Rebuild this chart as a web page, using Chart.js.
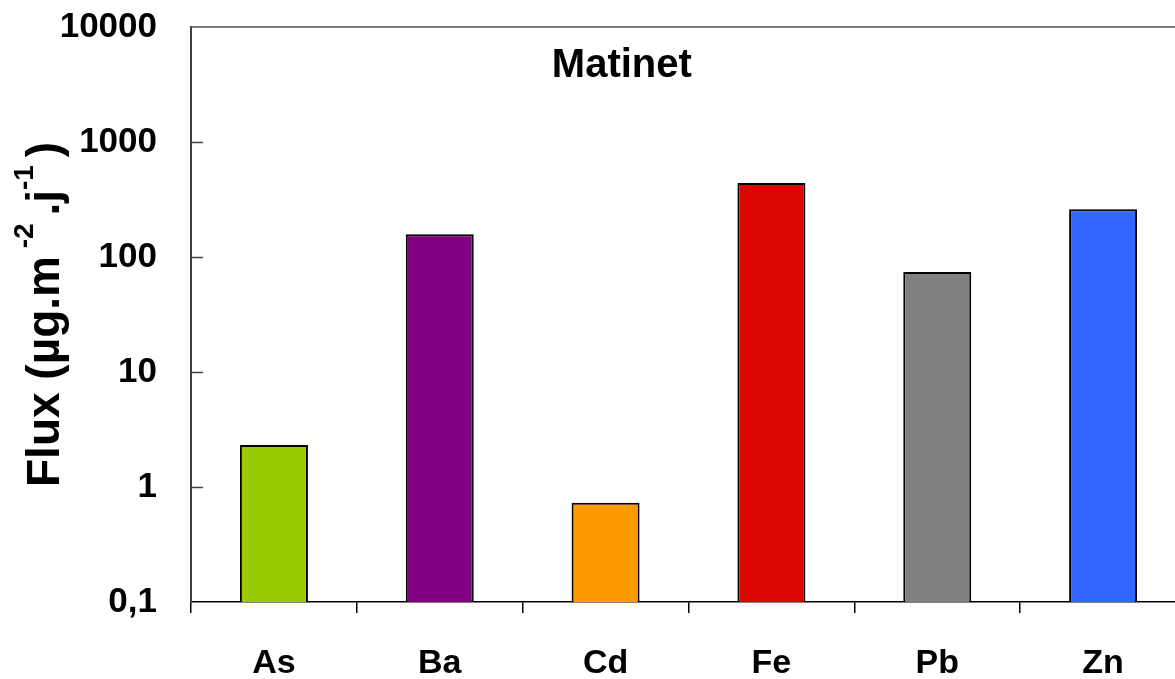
<!DOCTYPE html>
<html>
<head>
<meta charset="utf-8">
<script src="https://cdn.jsdelivr.net/npm/chart.js@4/dist/chart.umd.min.js"></script>
<style>
  html, body { margin: 0; padding: 0; background: #ffffff; }
  #wrap { width: 1175px; height: 679px; overflow: hidden; position: relative; }
  canvas { display: block; }
</style>
</head>
<body>
<div id="wrap"><canvas id="chart" width="1200" height="679"></canvas></div>
<script>
// Daily deposition flux per element, site "Matinet"
const categories = ['As', 'Ba', 'Cd', 'Fe', 'Pb', 'Zn'];
const fluxValues = [2.32, 158, 0.73, 440, 74, 260];
const barColors = ['#99CC00', '#800080', '#FF9900', '#DC0605', '#808080', '#3366FF'];
const tickValues = [0.1, 1, 10, 100, 1000, 10000];
const tickLabels = ['0,1', '1', '10', '100', '1000', '10000'];
const chartTitle = 'Matinet';

const FONT = '"Liberation Sans", Arial, sans-serif';

// Inward tick marks on the value axis, top frame line, title and axis title
const decorations = {
  id: 'decorations',
  afterDatasetsDraw(chart) {
    const { ctx, chartArea, scales } = chart;
    const y = scales.y;
    ctx.save();
    // top frame line
    ctx.strokeStyle = '#505050';
    ctx.lineWidth = 1.5;
    ctx.beginPath();
    ctx.moveTo(chartArea.left, chartArea.top);
    ctx.lineTo(chartArea.right, chartArea.top);
    ctx.stroke();
    // inward ticks
    ctx.strokeStyle = '#404040';
    ctx.lineWidth = 1.5;
    y.ticks.forEach(t => {
      if (t.value <= tickValues[0] || t.value >= tickValues[tickValues.length - 1]) return;
      const py = Math.round(y.getPixelForValue(t.value)) + 0.5;
      ctx.beginPath();
      ctx.moveTo(chartArea.left, py);
      ctx.lineTo(chartArea.left + 12, py);
      ctx.stroke();
    });
    ctx.restore();
  },
  afterDraw(chart) {
    const { ctx, chartArea } = chart;
    ctx.save();
    // chart title inside the plot area
    ctx.fillStyle = '#000000';
    ctx.font = 'bold 40px ' + FONT;
    ctx.textAlign = 'center';
    ctx.textBaseline = 'alphabetic';
    ctx.fillText(chartTitle, chartArea.left + 0.433 * (chartArea.right - chartArea.left), 77);

    // rotated axis title with superscripts
    const big = 'bold 46px ' + FONT;
    const small = 'bold 28px ' + FONT;
    const parts = [
      { t: 'Flux (\u00b5g.m', f: big, dy: 0 },
      { t: ' ', f: small, dy: 0 },
      { t: '-2', f: small, dy: -26 },
      { t: ' ', f: small, dy: 0 },
      { t: '.j', f: big, dy: 0 },
      { t: '-1', f: small, dy: -26 },
      { t: ' ', f: small, dy: 0 },
      { t: ')', f: big, dy: 0 }
    ];
    let total = 0;
    parts.forEach(p => { ctx.font = p.f; p.w = ctx.measureText(p.t).width; total += p.w; });
    const cy = (chartArea.top + chartArea.bottom) / 2;
    ctx.translate(59, cy);
    ctx.rotate(-Math.PI / 2);
    ctx.textAlign = 'left';
    let x = -total / 2;
    parts.forEach(p => {
      ctx.font = p.f;
      ctx.fillText(p.t, x, p.dy);
      x += p.w;
    });
    ctx.restore();
  }
};

new Chart(document.getElementById('chart'), {
  type: 'bar',
  data: {
    labels: categories,
    datasets: [{
      data: fluxValues,
      backgroundColor: barColors,
      borderColor: '#000000',
      borderWidth: 2,
      borderSkipped: 'bottom',
      categoryPercentage: 1.0,
      barPercentage: 0.41
    }]
  },
  options: {
    responsive: false,
    animation: false,
    devicePixelRatio: 1,
    layout: { padding: { left: 0, right: 14, top: 27, bottom: 0 } },
    plugins: {
      legend: { display: false },
      tooltip: { enabled: false },
      title: { display: false }
    },
    scales: {
      x: {
        type: 'category',
        offset: true,
        grid: {
          offset: true,
          drawOnChartArea: false,
          drawTicks: true,
          tickLength: 11,
          color: '#000000',
          lineWidth: 1.5
        },
        border: { display: true, color: '#000000', width: 1.5 },
        ticks: {
          color: '#000000',
          font: { family: FONT, size: 34, weight: 'bold' },
          padding: 30,
          maxRotation: 0,
          autoSkip: false
        },
        afterFit(scale) {
          scale.height = 77;
          scale.paddingLeft = 0;
          scale.paddingRight = 0;
        }
      },
      y: {
        type: 'logarithmic',
        min: tickValues[0],
        max: tickValues[tickValues.length - 1],
        grid: { display: true, drawOnChartArea: false, drawTicks: false },
        border: { display: true, color: '#404040', width: 2 },
        afterBuildTicks(scale) {
          scale.ticks = tickValues.map(v => ({ value: v }));
        },
        ticks: {
          color: '#000000',
          font: { family: FONT, size: 35, weight: 'bold' },
          padding: 34,
          callback(value) {
            const i = tickValues.indexOf(value);
            return i >= 0 ? tickLabels[i] : '';
          }
        },
        afterFit(scale) {
          scale.width = 191;
          scale.paddingTop = 0;
          scale.paddingBottom = 0;
        }
      }
    }
  },
  plugins: [decorations]
});
</script>
</body>
</html>
